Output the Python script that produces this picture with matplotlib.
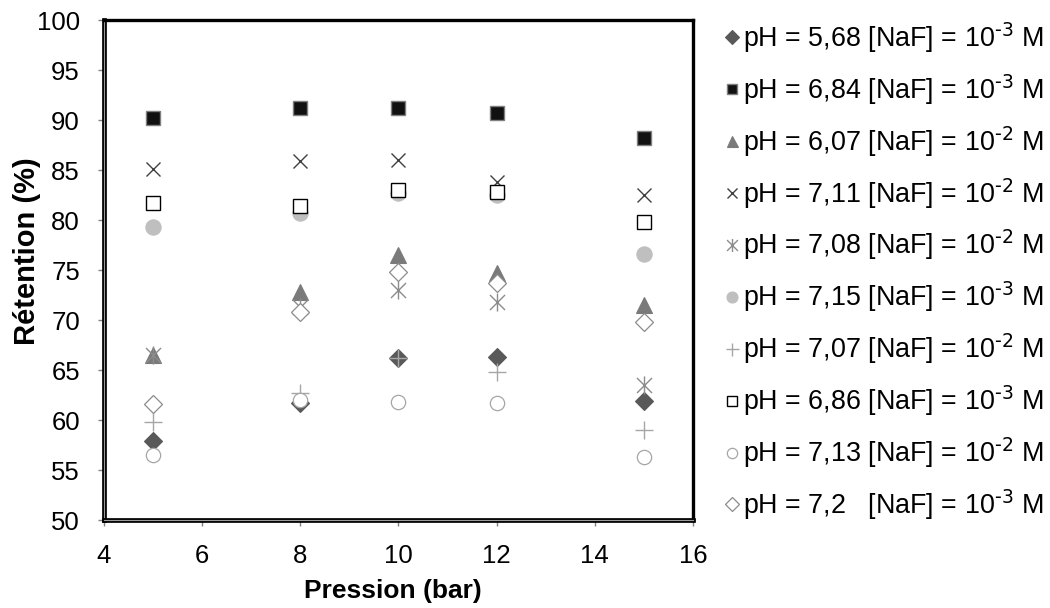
import matplotlib
matplotlib.use("Agg")
import matplotlib.pyplot as plt
from matplotlib.path import Path
import matplotlib.patheffects as pe

plt.rcParams['font.family'] = ['Liberation Sans', 'DejaVu Sans']
plt.rcParams['mathtext.default'] = 'regular'

pressure = [5, 8, 10, 12, 15]

labels = [
    r'pH = 5,68 [NaF] = 10$^{\text{-3}}$ M',
    r'pH = 6,84 [NaF] = 10$^{\text{-3}}$ M',
    r'pH = 6,07 [NaF] = 10$^{\text{-2}}$ M',
    r'pH = 7,11 [NaF] = 10$^{\text{-2}}$ M',
    r'pH = 7,08 [NaF] = 10$^{\text{-2}}$ M',
    r'pH = 7,15 [NaF] = 10$^{\text{-3}}$ M',
    r'pH = 7,07 [NaF] = 10$^{\text{-2}}$ M',
    r'pH = 6,86 [NaF] = 10$^{\text{-3}}$ M',
    r'pH = 7,13 [NaF] = 10$^{\text{-2}}$ M',
    r'pH = 7,2   [NaF] = 10$^{\text{-3}}$ M',
]

ret_568 = [57.9, 61.7, 66.2, 66.3, 61.9]
ret_684 = [90.2, 91.2, 91.2, 90.7, 88.2]
ret_607 = [66.5, 72.8, 76.5, 74.7, 71.5]
ret_711 = [85.1, 85.9, 86.0, 83.8, 82.5]
ret_708 = [66.5, 71.3, 73.0, 71.8, 63.5]
ret_715 = [79.3, 80.7, 82.7, 82.5, 76.6]
ret_707 = [59.8, 62.7, 66.2, 64.8, 59.0]
ret_686 = [81.7, 81.4, 83.0, 82.8, 79.8]
ret_713 = [56.5, 62.0, 61.8, 61.7, 56.3]
ret_720 = [61.6, 70.8, 74.8, 73.7, 69.8]

series = [ret_568, ret_684, ret_607, ret_711, ret_708,
          ret_715, ret_707, ret_686, ret_713, ret_720]

star = Path([(-1, -1), (1, 1), (-1, 1), (1, -1), (0, -1.2), (0, 1.2)],
            [Path.MOVETO, Path.LINETO, Path.MOVETO, Path.LINETO,
             Path.MOVETO, Path.LINETO])

styles = [
    dict(marker='D', ms=9.5, mfc='#595959', mec='#595959', mew=0.8),
    dict(marker='s', ms=9.6, mfc='#111111', mec='#7f7f7f', mew=1.0),
    dict(marker='^', ms=11, mfc='#7a7a7a', mec='#7a7a7a', mew=0.8),
    dict(marker='x', ms=10.5, mfc='none', mec='#404040', mew=1.0),
    dict(marker=star, ms=13, mfc='none', mec='#8c8c8c', mew=1.0),
    dict(marker='o', ms=11, mfc='#bfbfbf', mec='#bfbfbf', mew=0.8),
    dict(marker='+', ms=13, mfc='none', mec='#a6a6a6', mew=1.0),
    dict(marker='s', ms=9.6, mfc='white', mec='#000000', mew=1.0),
    dict(marker='o', ms=10.3, mfc='white', mec='#a6a6a6', mew=0.9),
    dict(marker='D', ms=9.5, mfc='white', mec='#8c8c8c', mew=0.9),
]

fig = plt.figure(figsize=(10.5, 6.08), dpi=100)
ax = fig.add_axes([104 / 1050, 88 / 608, 589 / 1050, 500 / 608])

handles = []
for vals, st, lab in zip(series, styles, labels):
    h, = ax.plot(pressure, vals, linestyle='none', label=lab, clip_on=False, **st)
    handles.append(h)

ax.set_xlim(4, 16)
ax.set_ylim(50, 100)
ax.set_xticks(range(4, 17, 2))
ax.set_yticks(range(50, 101, 5))

for side in ['top', 'right']:
    ax.spines[side].set_linewidth(2.4)
    ax.spines[side].set_color('black')
for side in ['left', 'bottom']:
    ax.spines[side].set_linewidth(0.8)
    ax.spines[side].set_color('#9a9a9a')
    ax.spines[side].set_path_effects([pe.Stroke(linewidth=3.4, foreground='black'), pe.Normal()])

ax.tick_params(axis='both', direction='out', length=4.5, width=1.0, color='#808080',
               labelsize=18.5, labelcolor='black')
ax.tick_params(axis='y', pad=12.8)
ax.tick_params(axis='x', pad=13)

ax.set_xlabel('Pression (bar)', fontsize=19, fontweight='bold')
ax.set_ylabel('Rétention (%)', fontsize=21, fontweight='bold')
ax.xaxis.set_label_coords((392.5 - 104) / 589, (520 - 579) / 500)
ax.yaxis.set_label_coords((41 - 104) / 589, (520 - 251) / 500)

fig.legend(handles=handles, loc='upper left', bbox_to_anchor=(725.3 / 1050, 1 - 20.4 / 608),
           frameon=False, fontsize=19.4, handlelength=0.5, handletextpad=0.16,
           labelspacing=0.645, borderpad=0, borderaxespad=0, markerscale=0.72)

fig.savefig('out.png', dpi=100)
